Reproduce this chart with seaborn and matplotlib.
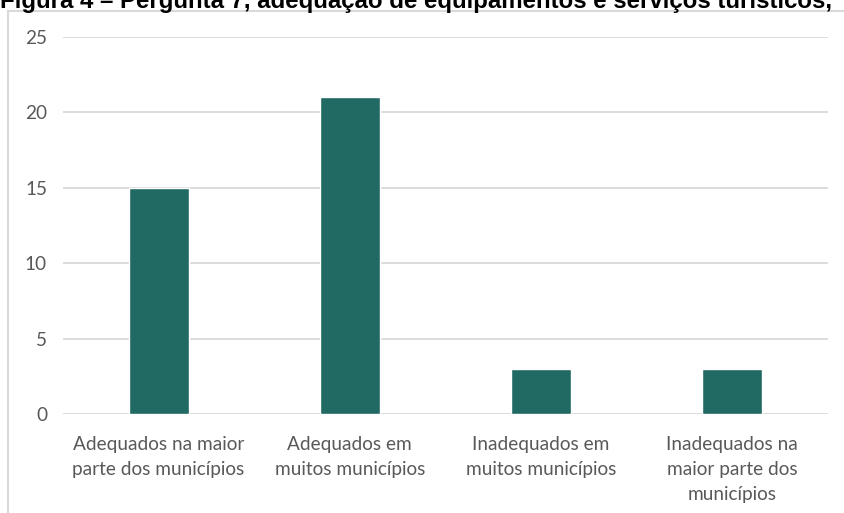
import matplotlib
matplotlib.use("Agg")
import matplotlib.pyplot as plt
from matplotlib.patches import Rectangle
import seaborn as sns
import pandas as pd

categories = [
    "Adequados na maior\nparte dos municípios",
    "Adequados em\nmuitos municípios",
    "Inadequados em\nmuitos municípios",
    "Inadequados na\nmaior parte dos\nmunicípios",
]
values = [15, 21, 3, 3]
y_ticks = [0, 5, 10, 15, 20, 25]
title = "Figura 4 – Pergunta 7, adequação de equipamentos e serviços turísticos,"

BAR_COLOR = "#216963"
TEXT_GRAY = "#595959"
GRID_GRAY = "#d9d9d9"

sns.set_theme(style="white")
plt.rcParams["font.family"] = ["Lato", "DejaVu Sans"]

W, H = 844, 513
fig = plt.figure(figsize=(W / 100, H / 100), dpi=100)
ax = fig.add_axes([63 / W, 99 / H, 765 / W, 377 / H])

df = pd.DataFrame({"cat": categories, "val": values})
sns.barplot(data=df, x="cat", y="val", color=BAR_COLOR, width=0.314,
            saturation=1, ax=ax, zorder=3)

ax.set_ylim(0, 25)
ax.set_yticks(y_ticks)
ax.set_xlim(-0.5, len(categories) - 0.5)
ax.set_xlabel("")
ax.set_ylabel("")
for s in ax.spines.values():
    s.set_visible(False)
ax.grid(axis="y", color=GRID_GRAY, linewidth=1.3, zorder=0)
ax.grid(axis="x", visible=False)
ax.tick_params(axis="both", length=0, colors=TEXT_GRAY, labelsize=13.7)
ax.tick_params(axis="y", pad=11.5)
ax.tick_params(axis="x", pad=15.5)
for lbl in ax.get_xticklabels():
    lbl.set_linespacing(1.6)
    lbl.set_verticalalignment("top")

# Light frame around the chart area, running off the right and bottom edges
frame = Rectangle((7.5 / W, -0.1), 1.2, (H - 11.5) / H + 0.1,
                  transform=fig.transFigure, fill=False,
                  edgecolor=GRID_GRAY, linewidth=1.5, zorder=0)
fig.patches.append(frame)

fig.text(0.0, 1 - 8 / H, title, family=["Liberation Sans", "DejaVu Sans"],
         fontweight="bold", fontsize=17.3, color="black",
         ha="left", va="baseline")

fig.savefig("out.png", dpi=100)
